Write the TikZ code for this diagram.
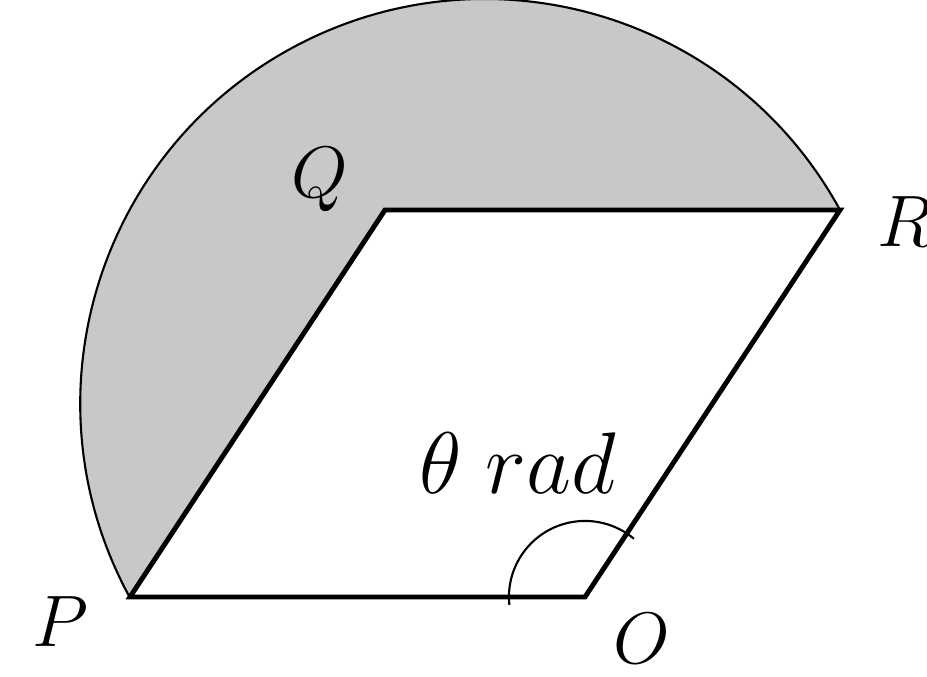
\documentclass[tikz,border=0pt]{standalone}
\usepackage{amsmath,amssymb}
\usepackage{tikz}
\usetikzlibrary{calc}
\definecolor{segfill}{RGB}{200,200,200}
\begin{document}
\begin{tikzpicture}[x=0.01cm, y=0.01cm, every node/.style={font=\fontsize{20}{24}\selectfont, inner sep=0pt}]
	\useasboundingbox (0,0) rectangle (927,677);
	\coordinate (P) at (130,80);
	\coordinate (O) at (585,80);
	\coordinate (R) at (840,467);
	\coordinate (Q) at (385,467);
	\fill[segfill] (R) arc[start angle=28.59, end angle=208.59, radius=4.043cm] -- (Q) -- (R) -- cycle;
	\draw[line width=0.6pt] (R) arc[start angle=28.59, end angle=208.59, radius=4.043cm];
	\draw[line width=1.4pt, line join=miter] (P) -- (O) -- (R) -- (Q) -- cycle;
	\draw[line width=0.6pt] ($(O)+(186:0.76cm)$) arc[start angle=186, end angle=50, radius=0.76cm];
	\node (lP) at (60,55) {$P$};
	\node (lO) at (642,38) {$O$};
	\node (lR) at (905,455) {$R$};
	\node (lQ) at (320,497) {$Q$};
	\node[font=\fontsize{23}{27}\selectfont] (lth) at (518,214) {$\theta\;rad$};
\end{tikzpicture}
\end{document}
